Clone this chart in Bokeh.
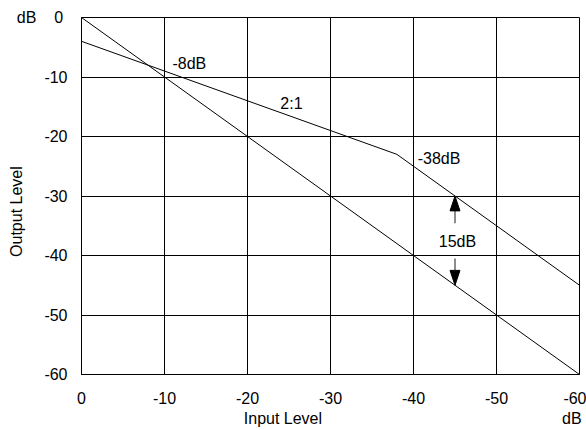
from bokeh.plotting import figure
from bokeh.models import Range1d, FixedTicker, Label
from bokeh.embed import file_html
from bokeh.resources import INLINE

# ---- data ----
tick_values = [0, -10, -20, -30, -40, -50, -60]
tick_labels = ["0", "-10", "-20", "-30", "-40", "-50", "-60"]
unit_text = "dB"
x_title = "Input Level"
y_title = "Output Level"

unity_in = [0, -60]
unity_out = [0, -60]

comp_in = [0, -38, -60]
comp_out = [-4, -23, -45]

arrow_x = -45
arrow_top = -30      # tip of the up arrow (compressed output)
arrow_bottom = -45   # tip of the down arrow (unity output)
arrow_up_tail = -34.6
arrow_down_tail = -40.5

FONT = "Liberation Sans"
FS = "16px"
W, H = 586, 430
NB = "\u00a0"

p = figure(width=W, height=H, output_backend="svg", toolbar_location=None,
           x_range=Range1d(0, -60), y_range=Range1d(-60, 0),
           min_border_left=81, min_border_right=7, min_border_top=17,
           min_border_bottom=56, background_fill_color="white",
           border_fill_color="white")

p.outline_line_color = "black"
p.outline_line_width = 1

for ax in (p.xaxis, p.yaxis):
    ax.ticker = FixedTicker(ticks=tick_values)
    ax.major_tick_in = 0
    ax.major_tick_out = 0
    ax.minor_tick_in = 0
    ax.minor_tick_out = 0
    ax.axis_line_color = "black"
    ax.major_label_text_font = FONT
    ax.major_label_text_font_size = FS
    ax.major_label_text_color = "black"
    ax.axis_label_text_font = FONT
    ax.axis_label_text_font_size = FS
    ax.axis_label_text_font_style = "normal"
    ax.axis_label_text_color = "black"

x_over = {v: s for v, s in zip(tick_values, tick_labels)}
y_over = dict(x_over)
y_over[0] = unit_text + NB * 4 + tick_labels[0] + NB
p.xaxis.major_label_overrides = x_over
p.yaxis.major_label_overrides = y_over

p.xaxis.major_label_standoff = 17
p.yaxis.major_label_standoff = 14
p.xaxis.axis_label = NB * 37 + x_title + NB * 54 + unit_text
p.yaxis.axis_label = y_title + NB * 7
p.xaxis.axis_label_standoff = 3
p.yaxis.axis_label_standoff = -11

p.xgrid.ticker = FixedTicker(ticks=tick_values)
p.ygrid.ticker = FixedTicker(ticks=tick_values)
for g in (p.xgrid, p.ygrid):
    g.grid_line_color = "black"
    g.grid_line_alpha = 1.0
    g.grid_line_width = 1

# curves
p.line(unity_in, unity_out, line_color="black", line_width=1)
p.line(comp_in, comp_out, line_color="black", line_width=1)

# arrows (shaft + filled head)
head_len = 2.5
head_hw = 0.6
p.segment(x0=[arrow_x, arrow_x], y0=[arrow_up_tail, arrow_down_tail],
          x1=[arrow_x, arrow_x], y1=[arrow_top - head_len, arrow_bottom + head_len],
          line_color="#666666", line_width=1.5)
p.patches(xs=[[arrow_x - head_hw, arrow_x + head_hw, arrow_x],
              [arrow_x - head_hw, arrow_x + head_hw, arrow_x]],
          ys=[[arrow_top - head_len, arrow_top - head_len, arrow_top],
              [arrow_bottom + head_len, arrow_bottom + head_len, arrow_bottom]],
          fill_color="black", line_color="black", line_width=1)

def lab(x, y, t, align="left", baseline="middle"):
    p.add_layout(Label(x=x, y=y, text=t, text_font=FONT, text_font_size=FS,
                       text_color="black", text_align=align,
                       text_baseline=baseline))

lab(-10.96, -7.7, "-8dB")
lab(-25.3, -14.45, "2:1", align="center")
lab(-40.5, -23.7, "-38dB")
lab(-45.3, -37.65, "15dB", align="center")

open("out.html", "w").write(file_html(p, INLINE))
